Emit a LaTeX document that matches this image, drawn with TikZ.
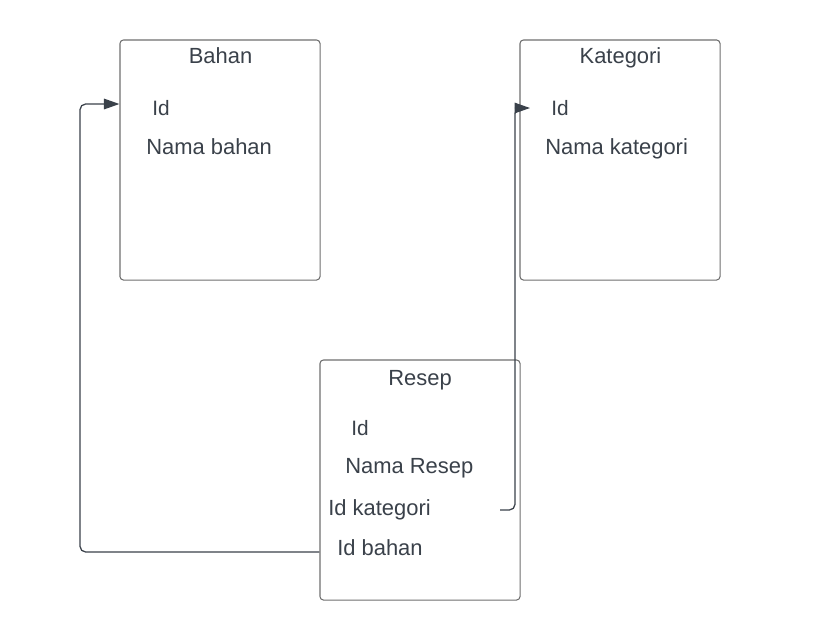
\documentclass[tikz,border=0pt]{standalone}
\usepackage{fontspec}
\setmainfont{Liberation Sans}
\usetikzlibrary{arrows.meta, positioning, calc}
\definecolor{pizarra}{HTML}{3A414A}
\definecolor{borde}{HTML}{707070}
\tikzset{
  tabla/.style={rectangle, rounded corners=2.5pt, minimum width=5cm, minimum height=6cm,
                draw=borde, line width=0.75pt, fill=white},
  titulo/.style={anchor=base, inner sep=0pt, text=pizarra, font=\fontsize{15.6}{18}\selectfont},
  campo/.style={anchor=base west, inner sep=0pt, text=pizarra, font=\fontsize{15.6}{18}\selectfont},
  campoid/.style={anchor=base west, inner sep=0pt, text=pizarra, font=\fontsize{14.8}{17}\selectfont},
  arrow/.style={line width=0.9pt, ->, >={Triangle[length=11pt, width=7.5pt]}, color=pizarra, rounded corners=4pt}
}

\begin{document}
\begin{tikzpicture}[x=0.025cm, y=-0.025cm]
  \useasboundingbox (0,0) rectangle (820,640);
  % tablas
  \node (bahan) [tabla] at (220,160) {};
  \node (kategori) [tabla] at (620,160) {};
  \node (resep) [tabla] at (420,480) {};
  % Bahan
  \node (tbahan) [titulo] at (220.5,63) {Bahan};
  \node (bid) [campoid] at (152,115) {Id};
  \node (bnama) [campo] at (146,154) {Nama bahan};
  % Kategori
  \node (tkat) [titulo] at (620.5,63) {Kategori};
  \node (kid) [campoid] at (551,115) {Id};
  \node (knama) [campo] at (545,154) {Nama kategori};
  % Resep
  \node (tresep) [titulo] at (420,385) {Resep};
  \node (rid) [campoid] at (351,435) {Id};
  \node (rnama) [campo] at (345,473) {Nama Resep};
  \node (rkat) [campo] at (328,515) {Id kategori};
  \node (rbahan) [campo] at (337,555) {Id bahan};
  % relaciones
  \coordinate (sk) at (500,510);
  \coordinate (ek) at (530,108);
  \draw [arrow] (resep.west |- 0,552) -- (80,552) -- (80,104) -- (bahan.west |- 0,104);
  \draw [arrow] (sk) -- (515,510) -- (515,108) -- (ek);
\end{tikzpicture}
\end{document}
